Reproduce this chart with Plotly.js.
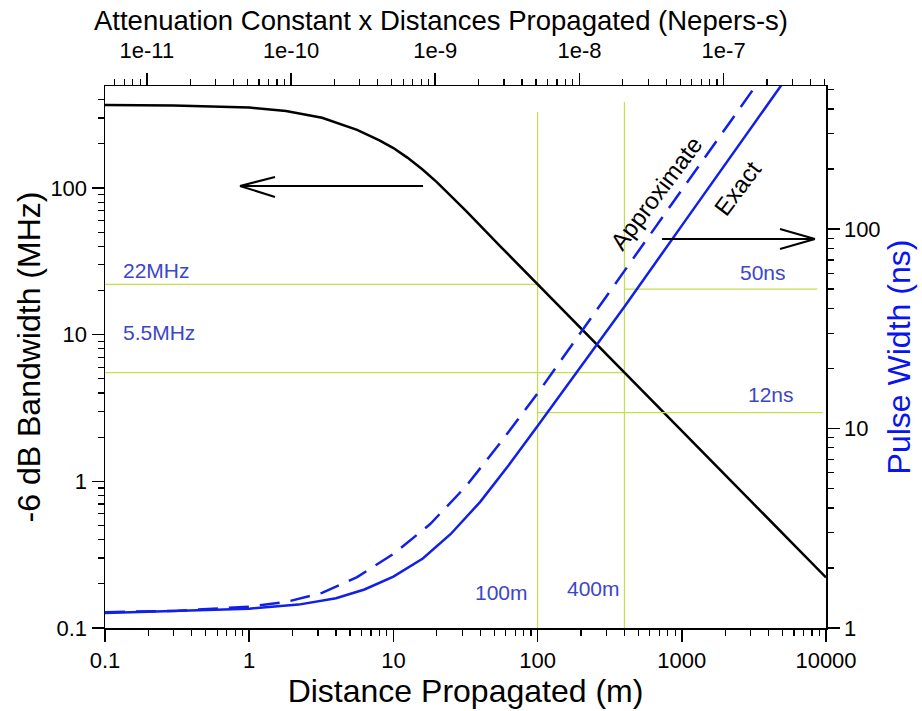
<!DOCTYPE html>
<html>
<head>
<meta charset="utf-8">
<script src="https://cdn.plot.ly/plotly-3.0.1.min.js"></script>
<style>html,body{margin:0;padding:0;background:#fff}#chart{width:922px;height:711px}</style>
</head>
<body>
<div id="chart"></div>
<script>
// ---- data ----
const distBW = [0.1, 0.3, 1, 1.8, 3.2, 5.6, 8, 10, 12.5, 16, 20, 25, 32, 56, 100, 1000, 10000];
const bandwidthMHz = [367, 365, 353, 335, 301, 249, 211, 187, 161, 133, 109.5, 88, 69.5, 39.4, 22.1, 2.21, 0.221];

const distExact = [0.1, 1, 2.2, 4, 6.3, 10, 16, 25, 40, 63, 100, 160, 250, 400, 1000, 2500, 5000];
const pulseExact = [1.19, 1.25, 1.31, 1.41, 1.56, 1.81, 2.23, 2.96, 4.29, 6.55, 10.3, 16.4, 25.6, 40.8, 104, 265, 537];

const distApprox = [0.1, 0.32, 1, 1.8, 3.2, 5.6, 10, 18, 32, 56, 100, 250, 1000, 4000];
const pulseApprox = [1.2, 1.22, 1.28, 1.35, 1.5, 1.8, 2.35, 3.32, 5.15, 8.6, 15, 38, 157, 644];

// guide lines
const guide100X = [100, 100], guide100Y = [0.1, 330];
const guide400X = [400, 400], guide400Y = [0.1, 385];
const guide22X = [0.1, 100], guide22Y = [22, 22];
const guide55X = [0.1, 400], guide55Y = [5.5, 5.5];
const guide50X = [400, 8700], guide50Y = [50, 50];
const guide12X = [100, 9500], guide12Y = [12, 12];

// ticks
const bottomTickVals = [0.1, 1, 10, 100, 1000, 10000];
const bottomTickText = ['0.1', '1', '10', '100', '1000', '10000'];
const topTickVals = [1e-11, 1e-10, 1e-9, 1e-8, 1e-7];
const topTickText = ['1e-11', '1e-10', '1e-9', '1e-8', '1e-7'];
const leftTickVals = [0.1, 1, 10, 100];
const leftTickText = ['0.1', '1', '10', '100'];
const rightTickVals = [1, 10, 100];
const rightTickText = ['1', '10', '100'];

// ---- styling ----
const FONT = 'Liberation Sans, Arial, Helvetica, sans-serif';
const GUIDE = '#c2e04a';
const BLUE = '#1020e8';
const LABELBLUE = '#3c46c8';

const guide = (x, y, yaxis) => ({
  x: x, y: y, type: 'scatter', mode: 'lines', yaxis: yaxis || 'y',
  line: {color: GUIDE, width: 1.2}, hoverinfo: 'skip', showlegend: false
});

const traces = [
  // carries the top (attenuation x distance) axis
  {x: topTickVals, y: topTickVals.map(() => null), type: 'scatter', mode: 'lines', xaxis: 'x2', yaxis: 'y',
   hoverinfo: 'skip', showlegend: false},
  guide(guide100X, guide100Y),
  guide(guide400X, guide400Y),
  guide(guide22X, guide22Y),
  guide(guide55X, guide55Y),
  guide(guide50X, guide50Y, 'y2'),
  guide(guide12X, guide12Y, 'y2'),
  {x: distBW, y: bandwidthMHz, type: 'scatter', mode: 'lines', name: 'Bandwidth',
   line: {color: '#000000', width: 2.5}},
  {x: distApprox, y: pulseApprox, type: 'scatter', mode: 'lines', name: 'Approximate', yaxis: 'y2',
   line: {color: BLUE, width: 2.5, dash: '20px,11px'}},
  {x: distExact, y: pulseExact, type: 'scatter', mode: 'lines', name: 'Exact', yaxis: 'y2',
   line: {color: BLUE, width: 2.5}}
];

const axisCommon = {
  type: 'log', showgrid: false, zeroline: false, showline: true,
  linecolor: '#000', linewidth: 1.5, ticks: 'outside', ticklen: 12, tickwidth: 1.5, tickcolor: '#000',
  tickmode: 'array', tickfont: {family: FONT, size: 22, color: '#000'},
  minor: {ticks: 'outside', ticklen: 6, tickwidth: 1.2, tickcolor: '#000', dtick: 'D1', showgrid: false}
};

const paperLine = (x0, y0, x1, y1) => ({
  type: 'line', xref: 'paper', yref: 'paper', x0: x0, y0: y0, x1: x1, y1: y1,
  line: {color: '#000', width: 2}
});

const ann = (text, x, y, opts) => Object.assign({
  text: text, x: x, y: y, xref: 'paper', yref: 'paper', showarrow: false,
  xanchor: 'center', yanchor: 'middle',
  font: {family: FONT, size: 21, color: LABELBLUE}
}, opts || {});

const layout = {
  width: 922, height: 711,
  margin: {l: 105, r: 96, t: 86, b: 83},
  paper_bgcolor: '#fff', plot_bgcolor: '#fff',
  showlegend: false,
  title: {
    text: 'Attenuation Constant x Distances Propagated (Nepers-s)',
    font: {family: FONT, size: 27.5, color: '#000'},
    x: 0.4783, xanchor: 'center', xref: 'container',
    y: 0.972, yanchor: 'middle', yref: 'container'
  },
  xaxis: Object.assign({}, axisCommon, {
    range: [-1, 4], tickvals: bottomTickVals, ticktext: bottomTickText,
    title: {text: 'Distance Propagated (m)', font: {family: FONT, size: 32, color: '#000'}, standoff: 2}
  }),
  xaxis2: Object.assign({}, axisCommon, {
    overlaying: 'x', side: 'top', anchor: 'y',
    range: [-11.29, -6.29], tickvals: topTickVals, ticktext: topTickText,
    ticklabelstandoff: 6
  }),
  yaxis: Object.assign({}, axisCommon, {
    range: [-1, 2.695], tickvals: leftTickVals, ticktext: leftTickText,
    title: {text: '-6 dB Bandwidth (MHz)', font: {family: FONT, size: 32, color: '#000'}, standoff: 0}
  }),
  yaxis2: Object.assign({}, axisCommon, {
    overlaying: 'y', side: 'right', anchor: 'x',
    range: [0, 2.717], tickvals: rightTickVals, ticktext: rightTickText,
    title: {text: 'Pulse Width (ns)', font: {family: FONT, size: 32, color: '#0a14f0'}, standoff: 8}
  }),
  shapes: [
    paperLine(0.1872, 0.8155, 0.4411, 0.8155),
    paperLine(0.1872, 0.8155, 0.2358, 0.8321),
    paperLine(0.1872, 0.8155, 0.2358, 0.7952),
    paperLine(0.7725, 0.7177, 0.9847, 0.7177),
    paperLine(0.9847, 0.7177, 0.9362, 0.7362),
    paperLine(0.9847, 0.7177, 0.9362, 0.6993)
  ],
  annotations: [
    ann('22MHz', 0.0222, 0.6587, {xanchor: 'left'}),
    ann('5.5MHz', 0.0222, 0.5461, {xanchor: 'left'}),
    ann('50ns', 0.9126, 0.655),
    ann('12ns', 0.9237, 0.4299),
    ann('100m', 0.5506, 0.0646),
    ann('400m', 0.6782, 0.0738),
    ann('Approximate', 0.7656, 0.8026, {textangle: -53, font: {family: FONT, size: 24, color: '#000'}}),
    ann('Exact', 0.8766, 0.8118, {textangle: -53, font: {family: FONT, size: 24, color: '#000'}})
  ]
};

Plotly.newPlot('chart', traces, layout, {displayModeBar: false, staticPlot: true});
</script>
</body>
</html>
